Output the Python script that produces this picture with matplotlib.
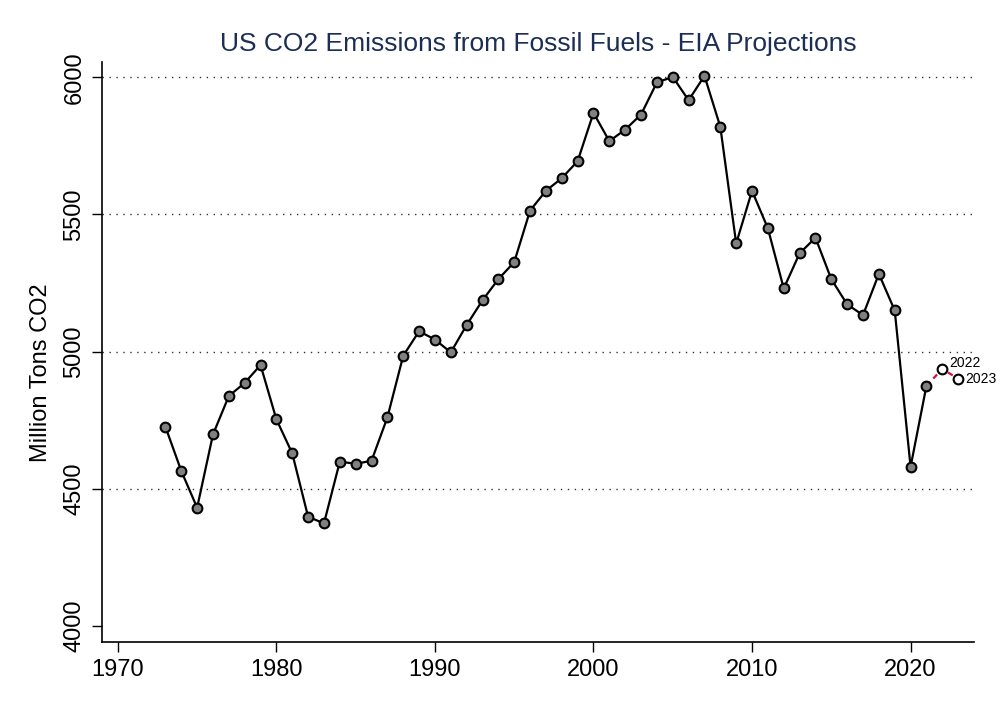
import matplotlib
matplotlib.use("Agg")
import matplotlib.pyplot as plt

plt.rcParams['font.family'] = ['Liberation Sans', 'DejaVu Sans']

# historical emissions (million tons CO2)
years = list(range(1973, 2022))
emissions = [4726, 4565, 4431, 4698, 4838, 4886, 4951, 4753, 4629, 4398,
             4374, 4599, 4591, 4602, 4760, 4985, 5074, 5044, 4997, 5097,
             5187, 5264, 5326, 5514, 5586, 5632, 5694, 5870, 5767, 5809,
             5864, 5981, 6001, 5916, 6005, 5819, 5394, 5586, 5449, 5230,
             5358, 5415, 5264, 5172, 5133, 5283, 5150, 4580, 4875]

# EIA projections
proj_years = [2022, 2023]
proj_values = [4937, 4901]
proj_labels = ['2022', '2023']

fig = plt.figure(figsize=(10, 7.14), dpi=100)
ax = fig.add_axes([0.102, 0.101, 0.872, 0.812])

# dotted grid at the labelled levels
for g in [4500, 5000, 5500, 6000]:
    ax.axhline(g, color='#333333', lw=1.0, ls=(0, (1, 4)), zorder=0)

ax.plot(years, emissions, color='black', lw=1.6, marker='o', ms=7,
        mfc='#808080', mec='black', mew=1.5, zorder=3)

# dashed link to projections
ax.plot([years[-1]] + proj_years, [emissions[-1]] + proj_values,
        color='#d0103a', lw=1.6, ls=(0, (2.5, 2)), zorder=2)
ax.plot(proj_years, proj_values, ls='none', marker='o', ms=7,
        mfc='white', mec='black', mew=1.5, zorder=4)
offsets = [(5, 4.5), (5, 0)]
for x, y, t, off in zip(proj_years, proj_values, proj_labels, offsets):
    ax.annotate(t, (x, y), xytext=off, textcoords='offset points',
                fontsize=10, va='center', ha='left')

ax.set_xlim(1969.0, 2024.0)
ax.set_ylim(3942, 6055)
ax.set_xticks([1970, 1980, 1990, 2000, 2010, 2020])
ax.set_yticks([4000, 4500, 5000, 5500, 6000])
for lab in ax.get_yticklabels():
    lab.set_rotation(90)
    lab.set_va('center')

ax.tick_params(axis='both', direction='out', length=7, width=1.0,
               labelsize=17, pad=5)
ax.spines['top'].set_visible(False)
ax.spines['right'].set_visible(False)
ax.spines['left'].set_linewidth(1.2)
ax.spines['bottom'].set_linewidth(1.2)

ax.set_ylabel('Million Tons CO2', fontsize=17)
ax.yaxis.set_label_coords(-0.057, 0.465)
ax.set_title('US CO2 Emissions from Fossil Fuels - EIA Projections',
             fontsize=19, color='#1c2e55', pad=8)

fig.savefig('out.png', dpi=100)
